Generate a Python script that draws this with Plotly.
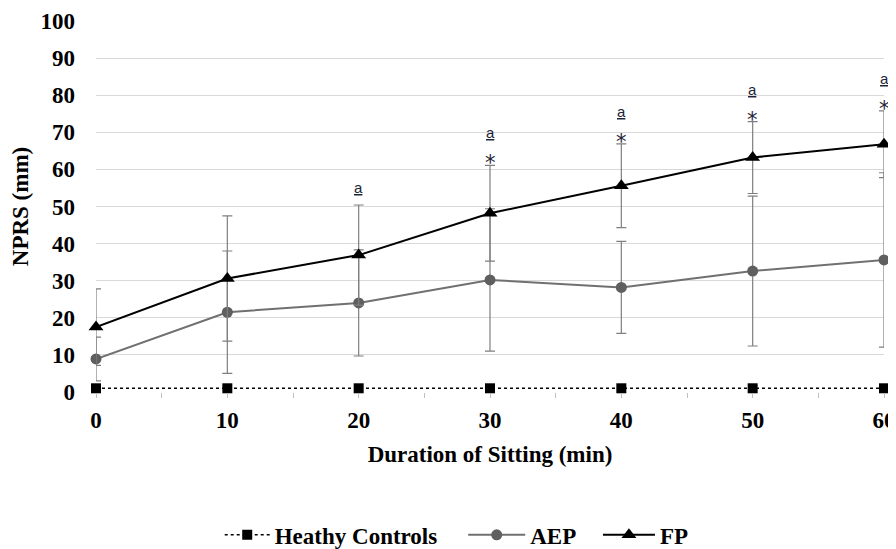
import plotly.graph_objects as go

minutes = [0, 10, 20, 30, 40, 50, 60]
hc_mean = [1.0, 1.0, 1.0, 1.0, 1.0, 1.0, 1.0]
aep_mean = [8.9, 21.5, 24.0, 30.2, 28.2, 32.6, 35.6]
aep_sd = [5.9, 16.5, 14.3, 19.2, 12.4, 20.2, 23.5]
fp_mean = [17.5, 30.6, 36.9, 48.2, 55.6, 63.2, 66.8]
fp_sd = [10.3, 16.9, 13.5, 12.9, 11.3, 9.7, 9.0]
star_flags = [False, False, False, True, True, True, True]
a_flags = [False, False, True, True, True, True, True]

FONT = "Liberation Serif"
FS = 23
ERR = "#7f7f7f"

fig = go.Figure()
fig.add_trace(go.Scatter(
    x=minutes, y=hc_mean, name="Heathy Controls", mode="lines+markers",
    line=dict(color="black", width=1.5, dash="dot"),
    marker=dict(symbol="square", size=10, color="black"),
    cliponaxis=False, legend="legend",
))
fig.add_trace(go.Scatter(
    x=minutes, y=aep_mean, name="AEP", mode="lines+markers",
    line=dict(color="#707070", width=2),
    marker=dict(symbol="circle", size=11, color="#5f5f5f"),
    error_y=dict(type="data", array=aep_sd, visible=True, color=ERR, thickness=1.2, width=5),
    cliponaxis=False, legend="legend2",
))
fig.add_trace(go.Scatter(
    x=minutes, y=fp_mean, name="FP", mode="lines+markers",
    line=dict(color="black", width=2),
    marker=dict(symbol="triangle-up", size=13, color="black"),
    error_y=dict(type="data", array=fp_sd, visible=True, color=ERR, thickness=1.2, width=5),
    cliponaxis=False, legend="legend3",
))

for x, m, s, st, af in zip(minutes, fp_mean, fp_sd, star_flags, a_flags):
    top = m + s
    if st:
        fig.add_annotation(x=x, y=top, text="*", showarrow=False, yanchor="bottom",
                           yshift=-12, font=dict(family="DejaVu Sans", size=21, color="#1c2438"))
    if af:
        fig.add_annotation(x=x, y=top, text="<u>a</u>", showarrow=False, yanchor="bottom",
                           yshift=(22 if st else 7),
                           font=dict(family="Liberation Sans", size=15, color="#1c2438"))

legend_font = dict(family=FONT, size=FS, color="black", weight="bold")

def leg(x, iw):
    return dict(orientation="h", x=x, xanchor="left", y=-0.385, yanchor="middle",
                font=legend_font, itemwidth=iw, bgcolor="rgba(0,0,0,0)")

# the page adds an 8px body margin, so the figure is 8px smaller than the window
fig.update_layout(
    width=888, height=541,
    margin=dict(l=88, r=12, t=13, b=157, autoexpand=False),
    paper_bgcolor="white", plot_bgcolor="white",
    font=dict(family=FONT, color="black", size=FS),
    showlegend=True,
    legend=leg(0.157, 45),
    legend2=leg(0.466, 57),
    legend3=leg(0.637, 52),
    xaxis=dict(
        range=[0, 60], tickvals=minutes, ticktext=[str(v) for v in minutes],
        showgrid=False, zeroline=False, showline=False, automargin=False,
        ticks="outside", ticklen=5, tickcolor="#bfbfbf",
        minor=dict(dtick=5, ticks="outside", ticklen=5, tickcolor="#bfbfbf"),
        tickfont=dict(family=FONT, size=FS, color="black", weight="bold"),
        ticklabelstandoff=2,
        title=dict(text="<b>Duration of Sitting (min)</b>", standoff=14,
                   font=dict(family=FONT, size=FS, color="black")),
    ),
    yaxis=dict(
        range=[0, 100], dtick=10, showgrid=True, gridcolor="#d9d9d9", gridwidth=1,
        zeroline=False, showline=False, ticks="", automargin=False,
        tickfont=dict(family=FONT, size=FS, color="black", weight="bold"),
        ticklabelstandoff=20,
        title=dict(text="<b>NPRS (mm)</b>", standoff=5,
                   font=dict(family=FONT, size=FS, color="black")),
    ),
)

fig.write_html("out.html")
